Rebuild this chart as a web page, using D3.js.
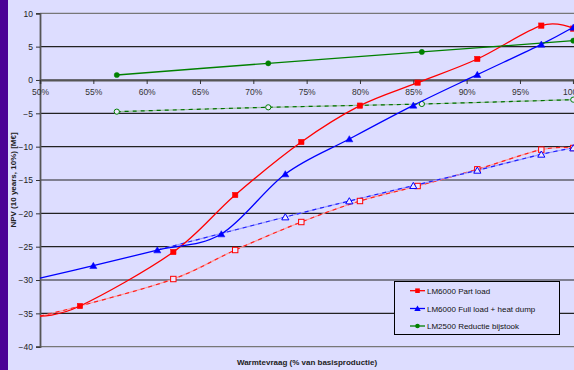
<!DOCTYPE html>
<html><head><meta charset="utf-8">
<script src="https://cdn.jsdelivr.net/npm/d3@7"></script>
<style>
html,body{margin:0;padding:0;background:#DDDDFF;}
svg{display:block;font-family:"Liberation Sans",Arial,sans-serif;}
</style></head>
<body>
<svg id="chart" width="574" height="370"></svg>
<script>
// ---- data ----
const xTicks = [50,55,60,65,70,75,80,85,90,95,100];
const yTicks = [10,5,0,-5,-10,-15,-20,-25,-30,-35,-40];

const partLoadX     = [50, 53.75, 62.5, 68.3, 74.5, 80, 85.4, 91, 97, 100];
const partLoadY     = [-35.4, -33.9, -25.8, -17.25, -9.3, -3.85, -0.4, 3.15, 8.15, 7.7];
const partLoadDashX = [50, 53.75, 62.5, 68.3, 74.5, 80, 85.4, 91, 97, 100];
const partLoadDashY = [-35.4, -33.9, -29.85, -25.5, -21.3, -18.15, -15.9, -13.4, -10.45, -10.2];

const fullLoadX     = [50, 55, 61, 67, 73, 79, 85, 91, 97, 100];
const fullLoadY     = [-29.7, -27.85, -25.5, -23.1, -14.1, -8.85, -3.8, 0.8, 5.35, 7.9];
const fullLoadDashX = [61, 73, 79, 85, 91, 97, 100];
const fullLoadDashY = [-25.5, -20.55, -18.15, -15.85, -13.55, -11.15, -10.2];

const lm2500X     = [57.2, 71.4, 85.8, 100];
const lm2500Y     = [0.75, 2.5, 4.2, 5.9];
const lm2500DashY = [-4.75, -4.1, -3.6, -2.95];

const legendLabels = ["LM6000 Part load", "LM6000 Full load + heat dump", "LM2500 Reductie bijstook"];

// ---- chart ----
const svg = d3.select("#chart");
const W = 574, H = 370;
svg.append("rect").attr("width", W).attr("height", H).attr("fill", "#DDDDFF");
svg.append("rect").attr("x", 0).attr("y", 0).attr("width", 8).attr("height", H).attr("fill", "#4B0096");

const x = d3.scaleLinear().domain([50, 100]).range([40, 573.3]);
const y = d3.scaleLinear().domain([-40, 10]).range([346.7, 13.3]);

// gridlines
svg.append("g").selectAll("line").data(yTicks).join("line")
  .attr("x1", 40).attr("x2", W)
  .attr("y1", d => y(d)).attr("y2", d => y(d))
  .attr("stroke", d => (d === 10 || d === -40) ? "#777" : "#222")
  .attr("stroke-width", 1.2);

// y axis
const yAxis = d3.axisLeft(y).tickValues(yTicks).tickSize(4).tickPadding(3).tickFormat(d3.format("d"));
const gy = svg.append("g").attr("transform", "translate(40,0)").call(yAxis);
gy.select(".domain").attr("stroke", "#555").attr("stroke-width", 1.8);
gy.selectAll(".tick line").attr("stroke", "#333");
gy.selectAll("text").attr("font-size", 8.5).attr("fill", "#222").attr("font-family", "Liberation Sans, Arial, sans-serif");

// x axis at y=0
const xAxis = d3.axisBottom(x).tickValues(xTicks).tickSize(4).tickPadding(5).tickFormat(d => d + "%");
const gx = svg.append("g").attr("transform", `translate(0,${y(0)})`).call(xAxis);
gx.select(".domain").attr("stroke", "#555").attr("stroke-width", 1.8);
gx.selectAll(".tick line").attr("stroke", "#333");
gx.selectAll("text").attr("font-size", 8.5).attr("fill", "#333").attr("font-family", "Liberation Sans, Arial, sans-serif");

// titles
svg.append("text").attr("x", 307).attr("y", 365).attr("text-anchor", "middle")
  .attr("font-size", 8).attr("font-weight", "bold").attr("fill", "#222")
  .text("Warmtevraag (% van basisproductie)");
svg.append("text").attr("transform", "translate(16,180) rotate(-90)").attr("text-anchor", "middle")
  .attr("font-size", 8).attr("font-weight", "bold").attr("fill", "#222")
  .text("NPV (10 years, 10%) [M€]");

const curve = d3.curveCardinal.tension(0);
const line = d3.line().x(d => x(d[0])).y(d => y(d[1])).curve(curve);
const zip = (xs, ys) => xs.map((v, i) => [v, ys[i]]);

const plot = svg.append("g");

function dashed(data, light, dark) {
  plot.append("path").attr("d", line(data)).attr("fill", "none").attr("stroke", light).attr("stroke-width", 1.2);
  plot.append("path").attr("d", line(data)).attr("fill", "none").attr("stroke", dark).attr("stroke-width", 1.2).attr("stroke-dasharray", "4,4");
}
function solid(data, color) {
  plot.append("path").attr("d", line(data)).attr("fill", "none").attr("stroke", color).attr("stroke-width", 1.3);
}
const tri = d3.symbol().type(d3.symbolTriangle).size(22);
function markers(data, shape, color, hollow) {
  const g = plot.append("g");
  data.forEach(d => {
    const cx = x(d[0]), cy = y(d[1]);
    if (shape === "square") {
      g.append("rect").attr("x", cx - 2.7).attr("y", cy - 2.7).attr("width", 5.4).attr("height", 5.4)
        .attr("fill", hollow ? "#EEE8FF" : color).attr("stroke", color).attr("stroke-width", hollow ? 1 : 0.5);
    } else if (shape === "triangle") {
      g.append("path").attr("d", tri()).attr("transform", `translate(${cx},${cy + 0.8})`)
        .attr("fill", hollow ? "#EEE8FF" : color).attr("stroke", color).attr("stroke-width", hollow ? 1 : 0.5);
    } else {
      g.append("circle").attr("cx", cx).attr("cy", cy).attr("r", 2.6)
        .attr("fill", hollow ? "#EEE8FF" : color).attr("stroke", color).attr("stroke-width", hollow ? 1 : 0.5);
    }
  });
}

const pl = zip(partLoadX, partLoadY), pld = zip(partLoadDashX, partLoadDashY);
const fl = zip(fullLoadX, fullLoadY), fld = zip(fullLoadDashX, fullLoadDashY);
const g2 = zip(lm2500X, lm2500Y), g2d = zip(lm2500X, lm2500DashY);

dashed(pld, "#FF9A9A", "#FF2020");
dashed(fld, "#9A9AFF", "#2020FF");
dashed(g2d, "#9CC09C", "#007000");
markers(pld.slice(2), "square", "#FF0000", true);
markers(fld.slice(1), "triangle", "#0000FF", true);
markers(g2d, "circle", "#008000", true);

solid(pl, "#FF0000");
solid(fl, "#0000FF");
solid(g2, "#008000");
markers(pl.slice(1), "square", "#FF0000", false);
markers(fl.slice(1), "triangle", "#0000FF", false);
markers(g2, "circle", "#008000", false);

// legend
const lg = svg.append("g");
lg.append("rect").attr("x", 394.5).attr("y", 281.5).attr("width", 165).attr("height", 53)
  .attr("fill", "#DDDDFF").attr("stroke", "#000").attr("stroke-width", 1);
const legColors = ["#FF0000", "#0000FF", "#008000"];
const legShapes = ["square", "triangle", "circle"];
const rowY = [290.7, 308.5, 326];
legendLabels.forEach((lab, i) => {
  lg.append("line").attr("x1", 410).attr("x2", 425).attr("y1", rowY[i]).attr("y2", rowY[i])
    .attr("stroke", legColors[i]).attr("stroke-width", 1.3);
  const cx = 417.5, cy = rowY[i];
  if (legShapes[i] === "square") lg.append("rect").attr("x", cx - 2.3).attr("y", cy - 2.3).attr("width", 4.6).attr("height", 4.6).attr("fill", legColors[i]);
  else if (legShapes[i] === "triangle") lg.append("path").attr("d", d3.symbol().type(d3.symbolTriangle).size(18)()).attr("transform", `translate(${cx},${cy + 0.6})`).attr("fill", legColors[i]);
  else lg.append("circle").attr("cx", cx).attr("cy", cy).attr("r", 2.3).attr("fill", legColors[i]);
  lg.append("text").attr("x", 427).attr("y", cy + 3).attr("font-size", 8).attr("fill", "#111").text(lab);
});
</script>
</body></html>
